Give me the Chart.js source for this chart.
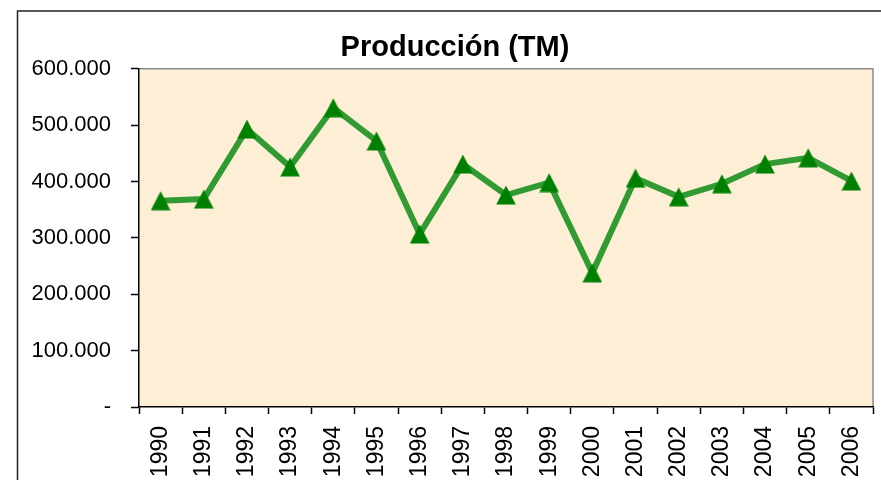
<!DOCTYPE html>
<html>
<head>
<meta charset="utf-8">
<script src="https://cdn.jsdelivr.net/npm/chart.js@4.4.0/dist/chart.umd.min.js"></script>
<style>
  html, body { margin: 0; padding: 0; background: #fff; overflow: hidden; }
  #wrap { width: 881px; height: 480px; overflow: hidden; }
</style>
</head>
<body>
<!-- canvas is a bit wider than the window: the chart frame runs off the right edge -->
<div id="wrap"><canvas id="prod-chart" width="893" height="480"></canvas></div>
<script>
const years = ['1990', '1991', '1992', '1993', '1994', '1995', '1996', '1997', '1998',
    '1999', '2000', '2001', '2002', '2003', '2004', '2005', '2006'];
const produccion = [366000, 369000, 493000, 426000, 531000, 472000, 307000, 431000, 376000,
    398000, 238000, 406000, 373000, 396000, 431000, 442000, 401000];
const yTicks = [0, 100000, 200000, 300000, 400000, 500000, 600000];
const yTickLabels = ['-', '100.000', '200.000', '300.000', '400.000', '500.000', '600.000'];

const fontFamily = '"Liberation Sans", Arial, sans-serif';

// triangle marker, centred in its box like the spreadsheet one
function makeTriangle() {
    const c = document.createElement('canvas');
    c.width = 20;
    c.height = 20;
    const g = c.getContext('2d');
    g.fillStyle = '#008000';
    g.beginPath();
    g.moveTo(10, 0.5);
    g.lineTo(19.8, 19.5);
    g.lineTo(0.2, 19.5);
    g.closePath();
    g.fill();
    return c;
}

const frame = {
    id: 'frame',
    beforeDraw(chart) {
        const { ctx, chartArea: a } = chart;
        ctx.save();
        ctx.fillStyle = '#fcefd6';
        ctx.fillRect(a.left, a.top, a.right - a.left, a.bottom - a.top);
        ctx.strokeStyle = '#8a8a8a';
        ctx.lineWidth = 1.5;
        ctx.beginPath();
        ctx.moveTo(a.left, a.top);
        ctx.lineTo(a.right, a.top);
        ctx.lineTo(a.right, a.bottom);
        ctx.stroke();
        // outer chart border, runs off the right and bottom edges
        ctx.strokeStyle = '#222';
        ctx.lineWidth = 1.5;
        ctx.strokeRect(17.5, 11, 920, 500);
        ctx.restore();
    }
};

const ctx = document.getElementById('prod-chart').getContext('2d');
new Chart(ctx, {
    type: 'line',
    data: {
        labels: years,
        datasets: [{
            data: produccion,
            borderColor: '#329a32',
            borderWidth: 6,
            pointStyle: makeTriangle(),
            pointRadius: 10,
            pointHoverRadius: 10,
            tension: 0
        }]
    },
    options: {
        responsive: false,
        animation: false,
        layout: { padding: { left: 17, right: 0, top: 31, bottom: 0 } },
        plugins: {
            legend: { display: false },
            tooltip: { enabled: false },
            title: {
                display: true,
                text: 'Producción (TM)',
                color: '#000',
                font: { family: fontFamily, size: 29, weight: 'bold', lineHeight: 1.2 },
                padding: { top: 0, bottom: 3 }
            }
        },
        scales: {
            x: {
                offset: true,
                grid: { offset: true, drawOnChartArea: false, tickLength: 7, color: '#000', tickWidth: 1.5 },
                border: { color: '#000', width: 1.5 },
                ticks: {
                    color: '#000',
                    font: { family: fontFamily, size: 23 },
                    minRotation: 90,
                    maxRotation: 90,
                    padding: 12,
                    autoSkip: false
                },
                afterFit(scale) { scale.height = 73; }
            },
            y: {
                min: 0,
                max: 600000,
                afterBuildTicks(scale) { scale.ticks = yTicks.map(v => ({ value: v })); },
                grid: { drawOnChartArea: false, tickLength: 8, color: '#000', tickWidth: 1.5 },
                border: { color: '#000', width: 1.5 },
                ticks: {
                    color: '#000',
                    font: { family: fontFamily, size: 22 },
                    padding: 20,
                    callback: (v, i) => yTickLabels[i]
                },
                afterFit(scale) { scale.width = 122; }
            },
            // empty right-hand box: keeps the plot off the frame edge
            spacer: {
                type: 'linear',
                position: 'right',
                display: true,
                grid: { display: false },
                border: { display: false },
                ticks: { display: false },
                afterFit(scale) { scale.width = 20; }
            }
        }
    },
    plugins: [frame]
});
</script>
</body>
</html>
